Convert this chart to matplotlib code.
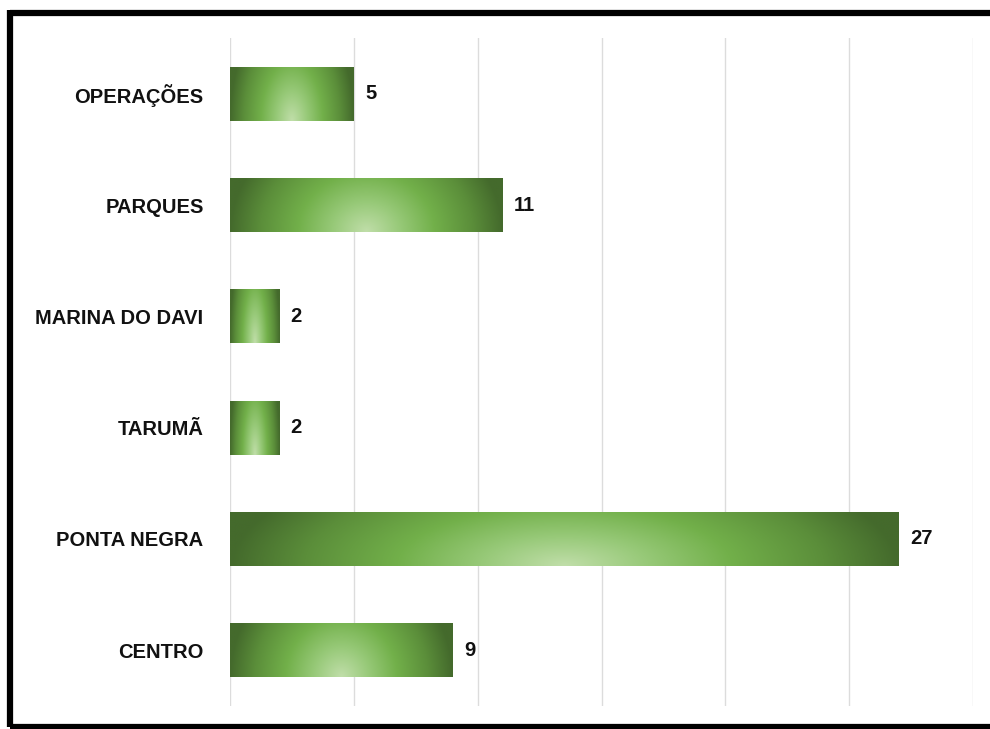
import numpy as np
import matplotlib.pyplot as plt
from matplotlib.colors import LinearSegmentedColormap
from matplotlib.lines import Line2D

# Dados do gráfico (de cima para baixo)
categorias = ["OPERAÇÕES", "PARQUES", "MARINA DO DAVI", "TARUMÃ", "PONTA NEGRA", "CENTRO"]
valores = [5, 11, 2, 2, 27, 9]

plt.rcParams['font.family'] = ['Liberation Sans', 'DejaVu Sans']

fig = plt.figure(figsize=(9.9, 7.29), dpi=100)
ax = fig.add_axes([230 / 990, 1 - 706 / 729, (973 - 230) / 990, (706 - 38) / 729])

pos = np.arange(len(categorias))
altura = 0.485
barras = ax.barh(pos, valores, height=altura, color='none', edgecolor='none', zorder=2)

# Gradiente radial (tipo "path" do Office), foco no centro da base da barra
cmap = LinearSegmentedColormap.from_list(
    'verde', [(0.0, '#c0dea9'), (0.25, '#97c978'), (0.5, '#72b04a'),
              (0.78, '#5b8e3a'), (1.0, '#446a2c')], N=256)
nx, ny = 300, 60
xx = np.linspace(-1, 1, nx)
yy = np.linspace(1, 0, ny)  # linha 0 = topo (distância 1 da base), última = base
U, V = np.meshgrid(xx, yy)
R = np.clip(np.sqrt(U ** 2 + (V * 0.45) ** 2), 0, 1)

for b in barras:
    x0, y0 = b.get_x(), b.get_y()
    w, h = b.get_width(), b.get_height()
    # eixo y invertido: y0 fica em cima
    ax.imshow(R, cmap=cmap, vmin=0, vmax=1, aspect='auto', interpolation='bilinear',
              extent=(x0, x0 + w, y0 + h, y0), origin='upper', zorder=2)

for p, v in zip(pos, valores):
    ax.text(v + 0.45, p, str(v), va='center', ha='left', fontsize=14.5,
            fontweight='bold', color='#111111', zorder=3)

ax.set_xlim(0, 30)
ax.set_ylim(len(categorias) - 0.5, -0.5)
ax.set_xticks(np.arange(0, 31, 5))
ax.set_xticklabels([])
ax.set_yticks(pos)
ax.set_yticklabels(categorias, fontsize=14.5, fontweight='bold', color='#111111')
ax.tick_params(axis='both', length=0)
ax.tick_params(axis='y', pad=19)
ax.grid(axis='x', color='#dcdcdc', linewidth=1.0, zorder=0)
ax.set_axisbelow(True)
for s in ax.spines.values():
    s.set_visible(False)

# Moldura preta (borda direita cortada)
lw = 4.5
fig.add_artist(Line2D([10 / 990, 1.0], [1 - 12.5 / 729, 1 - 12.5 / 729], color='black', linewidth=lw,
                      solid_capstyle='butt'))
fig.add_artist(Line2D([10 / 990, 10 / 990], [1 - 10 / 729, 1 - 727 / 729], color='black', linewidth=lw,
                      solid_capstyle='butt'))
fig.add_artist(Line2D([10 / 990, 1.0], [1 - 726.5 / 729, 1 - 726.5 / 729], color='black', linewidth=lw,
                      solid_capstyle='butt'))

fig.savefig("out.png", dpi=100)
plt.close(fig)
